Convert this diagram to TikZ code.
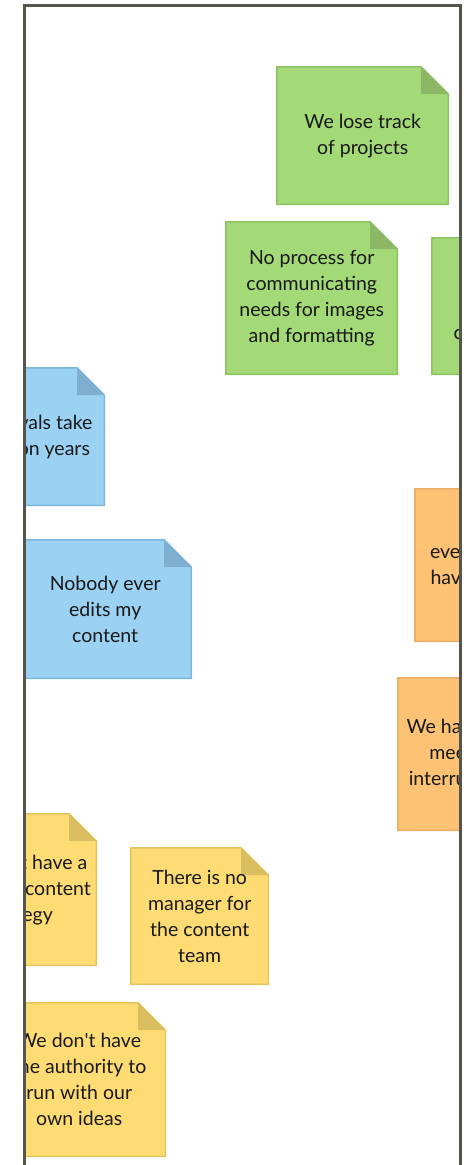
\documentclass[tikz,border=0pt]{standalone}
\usepackage{fontspec}
\setmainfont{Lato}
\usepackage{tikz}

\definecolor{greenfill}{HTML}{A3D977}
\definecolor{greenline}{HTML}{8DC263}
\definecolor{greenfold}{HTML}{8CB866}
\definecolor{bluefill}{HTML}{9BD1F2}
\definecolor{blueline}{HTML}{7DB6DD}
\definecolor{bluefold}{HTML}{7FAFD0}
\definecolor{orangefill}{HTML}{FDC273}
\definecolor{orangeline}{HTML}{E9AD66}
\definecolor{orangefold}{HTML}{E0AA62}
\definecolor{yellowfill}{HTML}{FFDC73}
\definecolor{yellowline}{HTML}{E3C45C}
\definecolor{yellowfold}{HTML}{D8BE5E}
\definecolor{framegray}{HTML}{55554D}

\begin{document}
\begin{tikzpicture}[x=1pt, y=-1pt]
    \tikzstyle{note}=[rectangle, anchor=north west, inner sep=0pt, minimum width=173pt, minimum height=139pt,
      align=center, text=black!90, font=\fontsize{19.5}{26}\selectfont,
      path picture={
        \path (path picture bounding box.north west) coordinate (nw)
              (path picture bounding box.north east) coordinate (ne)
              (path picture bounding box.south east) coordinate (se)
              (path picture bounding box.south west) coordinate (sw);
        \filldraw[fill=#1fill, draw=#1line, line width=1.5pt]
          ([shift={(.75pt,-.75pt)}]nw) -- ([shift={(-28pt,-.75pt)}]ne) -- ([shift={(-.75pt,-28pt)}]ne)
          -- ([shift={(-.75pt,.75pt)}]se) -- ([shift={(.75pt,.75pt)}]sw) -- cycle;
        \fill[#1fold] ([shift={(-28pt,-.75pt)}]ne) -- ([shift={(-28pt,-28pt)}]ne) -- ([shift={(-.75pt,-28pt)}]ne) -- cycle;
      }]
    \tikzstyle{small}=[minimum width=139pt]
    \tikzstyle{tall}=[minimum height=154pt]

    \useasboundingbox (0,0) rectangle (472,1165);

    \begin{scope}
      \clip (26,7) rectangle (459,1170);
      % green
      \node[note=green] (track) at (276,66) {We lose track\\of projects};
      \node[note=green, tall] (process) at (225,221) {No process for\\communicating\\needs for images\\and formatting};
      \node[note=green, minimum height=138pt] (review) at (431,237) {Nobody\\schedules\\content review};
      % blue
      \node[note=blue, minimum width=152pt] (approvals) at (-47,367) {Approvals take\\a million years};
      \node[note=blue, minimum width=174pt, minimum height=140pt] (edits) at (18,539) {Nobody ever\\edits my\\content};
      % orange
      \node[note=orange, tall, minimum width=190pt] (everyone) at (414,488) {everyone wants to\\have the last word};
      \node[note=orange, tall, minimum width=179pt] (meetings) at (397,677) {We have too many\\meetings and\\interruptions daily};
      % yellow
      \node[note=yellow, minimum width=158pt, minimum height=153pt] (strategy) at (-61,813) {We don\textquotesingle t have a\\cohesive content\\strategy};
      \node[note=yellow, small, minimum height=138pt] (manager) at (130,847) {There is no\\manager for\\the content\\team};
      \node[note=yellow, minimum width=174pt, minimum height=155pt] (authority) at (-8,1002) {We don\textquotesingle t have\\the authority to\\run with our\\own ideas};
    \end{scope}

    \draw[framegray, line width=3pt] (24.5,1170) |- (460.5,5.5) -- (460.5,1170);
\end{tikzpicture}
\end{document}
